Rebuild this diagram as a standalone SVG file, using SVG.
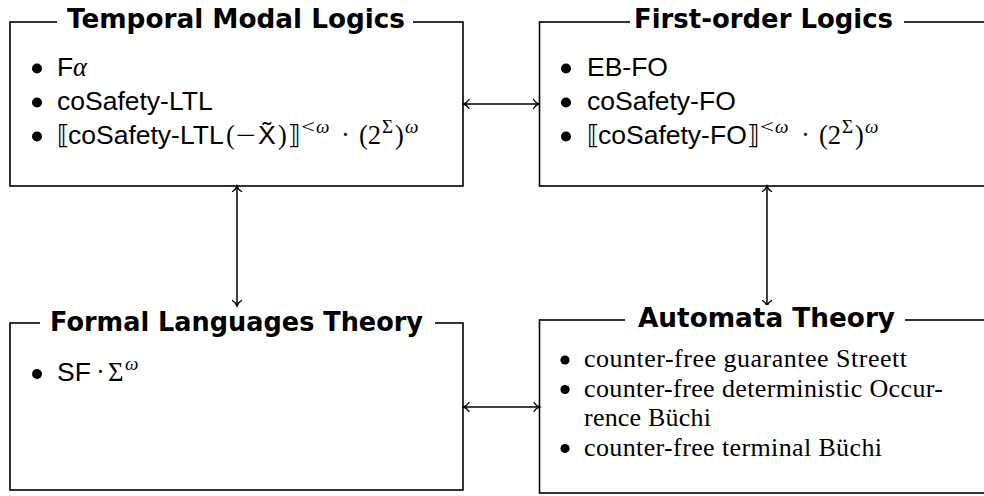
<svg xmlns="http://www.w3.org/2000/svg" width="984" height="496" viewBox="0 0 984 496">
<defs>
<style>
.box{fill:none;stroke:#000;stroke-width:1.6}
.mask{fill:#fff}
.title{font-family:"DejaVu Sans","Liberation Sans",sans-serif;font-weight:bold;font-size:26px;fill:#000}
.sans{font-family:"Liberation Sans",Arial,sans-serif;font-size:26.5px;fill:#000}
.serif{font-family:"Liberation Serif","Times New Roman",serif;font-size:26px;fill:#000}
.math{font-family:"Liberation Serif","Times New Roman",serif;font-size:26.5px}
.it{font-style:italic}
.sup{font-size:19px}
.brk{font-family:"DejaVu Sans",sans-serif;font-size:26px}
.bul{fill:#000}
.conn{fill:none;stroke:#000;stroke-width:1.5}
</style>
<marker id="ah" viewBox="-7 -6 9 12" markerWidth="9" markerHeight="12" refX="0" refY="0" orient="auto-start-reverse" markerUnits="userSpaceOnUse">
<path d="M-5.5,-4.5 C-4,-2 -1.5,-0.5 0,0 C-1.5,0.5 -4,2 -5.5,4.5" fill="none" stroke="#000" stroke-width="1.4" stroke-linecap="round"/>
</marker>
</defs>
<rect width="984" height="496" fill="#fff"/>

<g id="connectors">
<line class="conn" x1="463.5" y1="104" x2="539" y2="104" marker-start="url(#ah)" marker-end="url(#ah)"/>
<line class="conn" x1="237" y1="186" x2="237" y2="306" marker-start="url(#ah)" marker-end="url(#ah)"/>
<line class="conn" x1="767" y1="186" x2="767" y2="306" marker-start="url(#ah)" marker-end="url(#ah)"/>
<line class="conn" x1="463.5" y1="407" x2="539.5" y2="407" marker-start="url(#ah)" marker-end="url(#ah)"/>
</g>

<g id="temporal-modal-logics">
<rect class="box" x="10" y="22" width="453" height="164"/>
<rect class="mask" x="57" y="8" width="356" height="28"/>
<text class="title" x="67" y="28" textLength="338" lengthAdjust="spacingAndGlyphs">Temporal Modal Logics</text>
<circle class="bul" cx="37" cy="68.5" r="5"/>
<circle class="bul" cx="37" cy="102.5" r="5"/>
<circle class="bul" cx="37" cy="136.5" r="5"/>
<text class="sans" y="76"><tspan x="57">F</tspan><tspan class="math it" x="73">α</tspan></text>
<text class="sans" x="57" y="110">coSafety-LTL</text>
<text class="sans" y="144"><tspan class="brk" x="57">⟦</tspan><tspan x="68">coSafety-LTL</tspan><tspan class="math" x="226">(</tspan><tspan class="math" x="236" textLength="20" lengthAdjust="spacingAndGlyphs">−</tspan><tspan x="258">X̃</tspan><tspan class="math" x="278">)</tspan><tspan class="brk" x="288">⟧</tspan><tspan class="math sup" x="301" y="133" textLength="14" lengthAdjust="spacingAndGlyphs">&lt;</tspan><tspan class="math it sup" x="316" y="133">ω</tspan><tspan class="math" x="341" y="144">·</tspan><tspan class="math" x="359" y="144">(2</tspan><tspan class="math sup" x="382" y="133">Σ</tspan><tspan class="math" x="395" y="144">)</tspan><tspan class="math it sup" x="405" y="133">ω</tspan></text>
</g>

<g id="first-order-logics">
<rect class="box" x="539.5" y="22" width="460" height="164"/>
<rect class="mask" x="630" y="8" width="274" height="28"/>
<text class="title" x="634" y="28" textLength="259" lengthAdjust="spacingAndGlyphs">First-order Logics</text>
<circle class="bul" cx="566" cy="68.5" r="5"/>
<circle class="bul" cx="566" cy="102.5" r="5"/>
<circle class="bul" cx="566" cy="136.5" r="5"/>
<text class="sans" x="587" y="76">EB-FO</text>
<text class="sans" x="587" y="110">coSafety-FO</text>
<text class="sans" y="144"><tspan class="brk" x="587">⟦</tspan><tspan x="598">coSafety-FO</tspan><tspan class="brk" x="747">⟧</tspan><tspan class="math sup" x="760" y="133" textLength="14" lengthAdjust="spacingAndGlyphs">&lt;</tspan><tspan class="math it sup" x="775" y="133">ω</tspan><tspan class="math" x="801" y="144">·</tspan><tspan class="math" x="819" y="144">(2</tspan><tspan class="math sup" x="842" y="133">Σ</tspan><tspan class="math" x="855" y="144">)</tspan><tspan class="math it sup" x="865" y="133">ω</tspan></text>
</g>

<g id="formal-languages-theory">
<rect class="box" x="10" y="323" width="453" height="167"/>
<rect class="mask" x="40" y="308" width="395" height="30"/>
<text class="title" x="50" y="331" textLength="373" lengthAdjust="spacingAndGlyphs">Formal Languages Theory</text>
<circle class="bul" cx="37" cy="374" r="5"/>
<text class="sans" y="381"><tspan x="57">SF</tspan><tspan class="math" x="96">·</tspan><tspan class="math" x="108">Σ</tspan><tspan class="math it sup" x="125" y="370">ω</tspan></text>
</g>

<g id="automata-theory">
<rect class="box" x="539.5" y="320" width="460" height="173"/>
<rect class="mask" x="625" y="305" width="280" height="30"/>
<text class="title" x="638" y="327" textLength="257" lengthAdjust="spacingAndGlyphs">Automata Theory</text>
<circle class="bul" cx="565" cy="360" r="4.6"/>
<circle class="bul" cx="565" cy="389.5" r="4.6"/>
<circle class="bul" cx="565" cy="448.5" r="4.6"/>
<text class="serif" x="584" y="367" textLength="323" lengthAdjust="spacing">counter-free guarantee Streett</text>
<text class="serif" x="584" y="396.5" textLength="359" lengthAdjust="spacing">counter-free deterministic Occur-</text>
<text class="serif" x="584" y="426" textLength="127" lengthAdjust="spacing">rence Büchi</text>
<text class="serif" x="584" y="455.5" textLength="298" lengthAdjust="spacing">counter-free terminal Büchi</text>
</g>
</svg>
